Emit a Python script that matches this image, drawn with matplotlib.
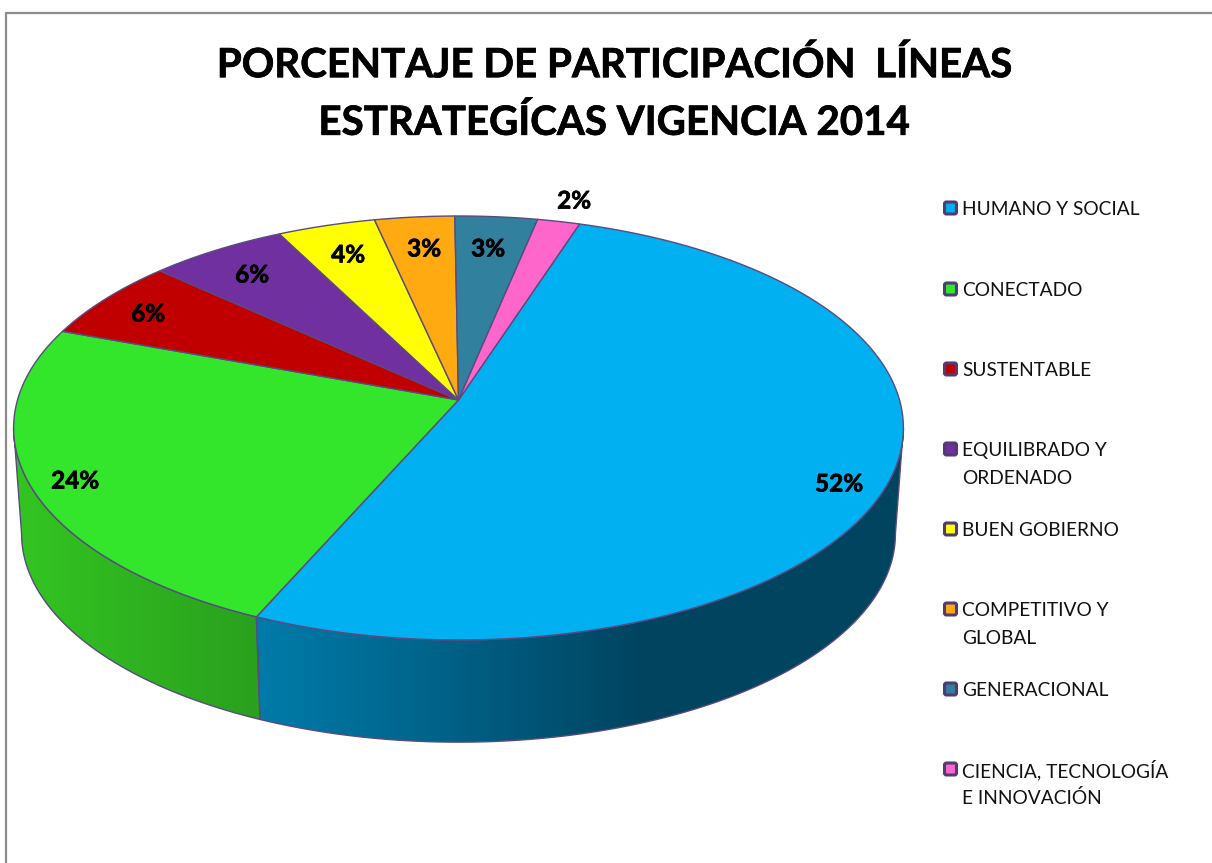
import numpy as np
import matplotlib
matplotlib.use('Agg')
import matplotlib.pyplot as plt
import matplotlib.patheffects as pe
from matplotlib.colors import LinearSegmentedColormap
from matplotlib.patches import FancyBboxPatch, Polygon

plt.rcParams['font.family'] = ['Lato', 'DejaVu Sans']

categories = ['HUMANO Y SOCIAL', 'CONECTADO', 'SUSTENTABLE', 'EQUILIBRADO Y\nORDENADO',
              'BUEN GOBIERNO', 'COMPETITIVO Y\nGLOBAL', 'GENERACIONAL',
              'CIENCIA, TECNOLOGÍA\nE INNOVACIÓN']
values = [51.6, 24.0, 6.2, 5.7, 4.05, 3.3, 3.4, 1.75]
colors = ['#00B0F0', '#33E52B', '#C00000', '#7030A0', '#FFFF00', '#FFAA11', '#31809D', '#FF66CC']
title = 'PORCENTAJE DE PARTICIPACIÓN  LÍNEAS\nESTRATEGÍCAS VIGENCIA 2014'

label_xy = [(839, 484), (75, 481), (148, 314), (252, 275), (348, 255), (424, 249), (488, 249), (574, 201)]
legend_y = [208, 289, 369, 449, 529, 609, 689, 769]

EDGE = '#5A4A80'
START = 18.0
K = 0.132


def project(theta_deg, apex_y=400.0, scale=1.0):
    t = np.radians(theta_deg)
    w = 1 + K * np.cos(t)
    x = 458.5 + scale * 441 * np.sin(t) / w
    y = apex_y - scale * 208.3 * np.cos(t) / w
    return x, y


def arc(t1, t2, apex_y=400.0, scale=1.0):
    n = max(int(abs(t2 - t1) * 2), 2)
    return project(np.linspace(t1, t2, n), apex_y, scale)


def draw_wall(ax, t1, t2, cols):
    x1, y1 = arc(t1, t2)
    x2, y2 = arc(t2, t1, 506.5, 0.982)
    xy = np.column_stack([np.r_[x1, x2], np.r_[y1, y2]])
    poly = Polygon(xy, closed=True, facecolor='none', edgecolor=EDGE, lw=1.0, zorder=3)
    ax.add_patch(poly)
    cmap = LinearSegmentedColormap.from_list('wall', cols)
    grad = np.linspace(0, 1, 256).reshape(1, -1)
    im = ax.imshow(grad, cmap=cmap, aspect='auto', zorder=2,
                   extent=[xy[:, 0].min(), xy[:, 0].max(), xy[:, 1].max(), xy[:, 1].min()])
    im.set_clip_path(poly)


fig = plt.figure(figsize=(12.12, 8.63), dpi=100)
ax = fig.add_axes([0, 0, 1, 1])

bounds = START + np.r_[0, np.cumsum(values)] * 3.6

# where the rim turns back, left and right silhouette of the disc
turn = np.degrees(np.arccos(-K))

# side walls
draw_wall(ax, bounds[1], 360 - turn, ['#33C522', '#2AA01E'])
draw_wall(ax, turn, bounds[1], ['#007BAA', '#006A93', '#00577A', '#00445F', '#00445F', '#00445F'])

# top face
for i in range(len(values)):
    x, y = arc(bounds[i], bounds[i + 1])
    ax.fill(np.r_[458.5, x], np.r_[400, y], facecolor=colors[i], edgecolor=EDGE, lw=1.0, zorder=4)

thicker = [pe.withStroke(linewidth=0.5, foreground='black')]
for v, (x, y) in zip(values, label_xy):
    ax.text(x, y, '%.0f%%' % v, ha='center', va='center', fontsize=17.5, fontweight='bold',
            zorder=5, path_effects=thicker)

ax.text(614, 94, title, ha='center', va='center', fontsize=29, fontweight='bold', linespacing=1.66,
        path_effects=thicker)

for c, name, y in zip(colors, categories, legend_y):
    ax.add_patch(FancyBboxPatch((946, y - 4.5), 9, 9, boxstyle='round,pad=1.5,rounding_size=2',
                                facecolor=c, edgecolor='#4F3C74', lw=2.2))
    for j, line in enumerate(name.split('\n')):
        ax.text(962, y + j * 27.5, line, ha='left', va='center_baseline', fontsize=13.75, color='#111111')

# chart frame, only top and left are inside the crop
ax.plot([1212, 5.5, 5.5], [13, 13, 863], color='#8C8C8C', lw=1.6)

ax.set_xlim(0, 1212)
ax.set_ylim(863, 0)
ax.axis('off')

fig.savefig('out.png', dpi=100)
